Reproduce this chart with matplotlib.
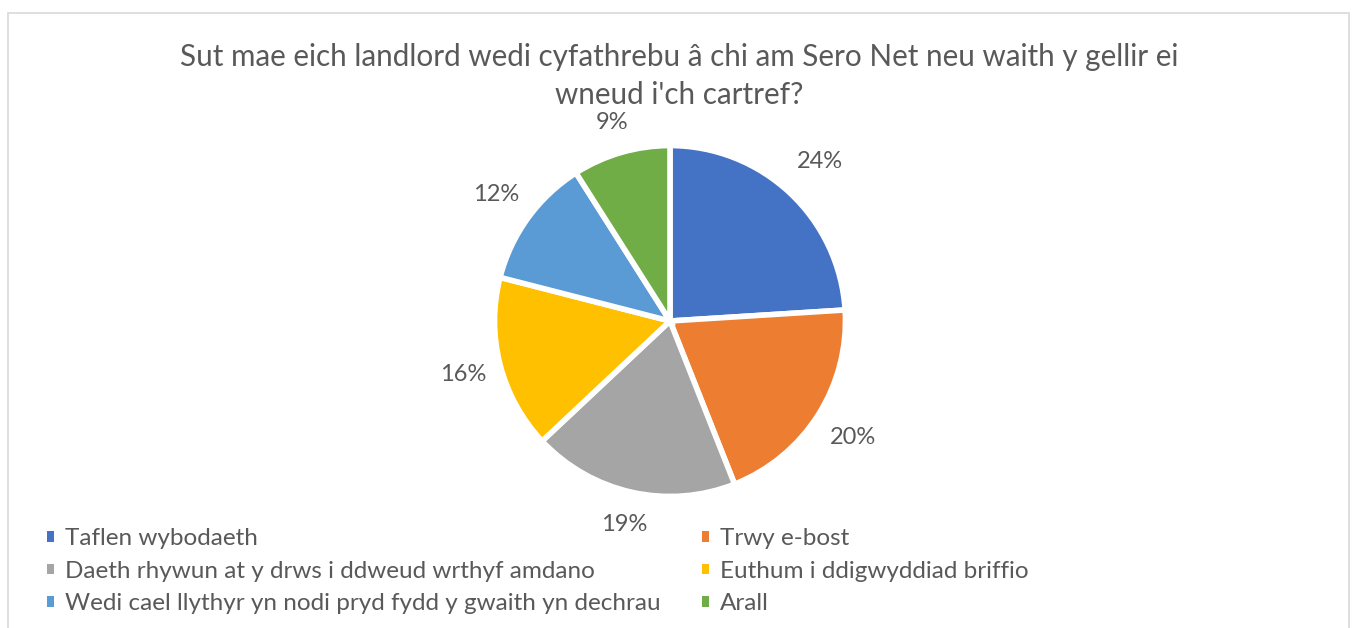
import numpy as np
import matplotlib
matplotlib.use("Agg")
import matplotlib.pyplot as plt
from matplotlib.patches import Patch, Rectangle

# data
categories = [
    "Taflen wybodaeth",
    "Trwy e-bost",
    "Daeth rhywun at y drws i ddweud wrthyf amdano",
    "Euthum i ddigwyddiad briffio",
    "Wedi cael llythyr yn nodi pryd fydd y gwaith yn dechrau",
    "Arall",
]
percentages = [24, 20, 19, 16, 12, 9]
colors = ["#4472C4", "#ED7D31", "#A5A5A5", "#FFC000", "#5B9BD5", "#70AD47"]
title = "Sut mae eich landlord wedi cyfathrebu â chi am Sero Net neu waith y gellir ei\nwneud i'ch cartref?"

# label distance from centre, in pie radii (Excel "best fit" look)
label_dist = [1.27, 1.26, 1.21, 1.24, 1.25, 1.20]

plt.rcParams["font.family"] = ["Lato", "DejaVu Sans"]
text_color = "#595959"

W, H = 1354, 628
fig = plt.figure(figsize=(W / 100, H / 100), dpi=100)

# chart border
fig.patches.append(Rectangle((8 / W, -0.05), (1349 - 8) / W, 1.05 - 13 / H,
                             transform=fig.transFigure, fill=False,
                             edgecolor="#D9D9D9", linewidth=1.2))

# pie axes: center (670, 321) px, radius 172 px
cx, cy, r = 670, 321, 172
ax = fig.add_axes([(cx - r) / W, (H - cy - r) / H, 2 * r / W, 2 * r / H])
wedges, _ = ax.pie(
    percentages, colors=colors, startangle=90, counterclock=False,
    radius=1.02, wedgeprops=dict(edgecolor="white", linewidth=4),
)
for w, p, d in zip(wedges, percentages, label_dist):
    ang = np.deg2rad((w.theta1 + w.theta2) / 2)
    ax.text(d * np.cos(ang), d * np.sin(ang), f"{p}%", ha="center", va="center",
            fontsize=17, color=text_color)
ax.set_xlim(-1, 1)
ax.set_ylim(-1, 1)
ax.set_aspect("equal")

fig.text(679 / W, 1 - 76 / H, title, ha="center", va="center",
         fontsize=21.3, color=text_color, linespacing=1.45)

# legend, filled row by row
handles = [Patch(facecolor=c) for c in colors]
order = [0, 2, 4, 1, 3, 5]
fig.legend([handles[i] for i in order], [categories[i] for i in order],
           ncol=2, loc="upper left", bbox_to_anchor=(47 / W, 1 - 528 / H),
           frameon=False, fontsize=17.5, labelcolor=text_color,
           handlelength=0.3, handleheight=0.3, handletextpad=0.45,
           columnspacing=1.7, labelspacing=0.48, borderaxespad=0, borderpad=0)

fig.savefig("out.png", dpi=100)
